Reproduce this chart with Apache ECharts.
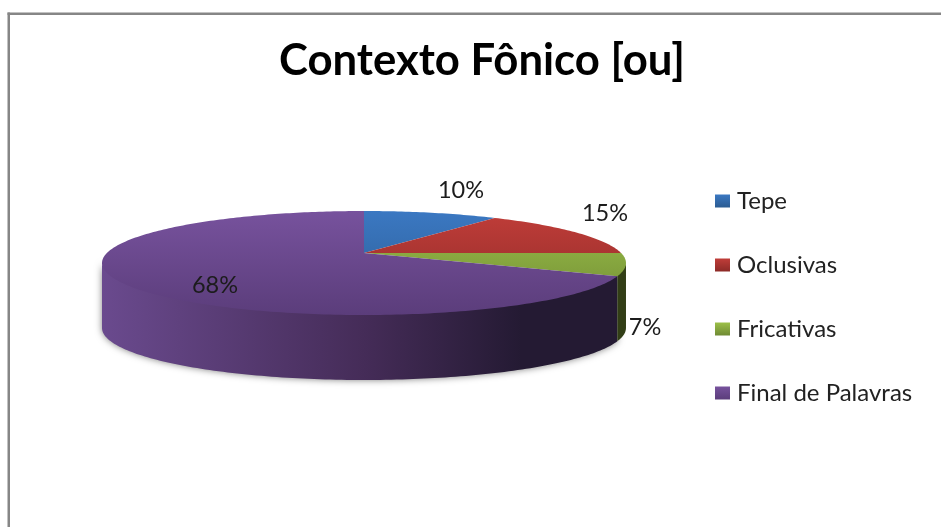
<!DOCTYPE html>
<html>
<head>
<meta charset="utf-8">
<style>
  html, body { margin: 0; padding: 0; background: #fff; }
  #chart { width: 941px; height: 527px; }
</style>
<script src="https://cdn.jsdelivr.net/npm/echarts@6/dist/echarts.min.js"></script>
</head>
<body>
<div id="chart"></div>
<script>
var titleText = "Contexto Fônico [ou]";
var categories = ["Tepe", "Oclusivas", "Fricativas", "Final de Palavras"];
var values = [10, 15, 7, 68];

var topColors = [
  ["#3b78c2", "#2b5c92"],
  ["#c03d39", "#8c2a27"],
  ["#9cc049", "#6f8a34"],
  ["#77529d", "#5b3d7b"]
];
var wallStops = [
  ["#000000", "#000000"],
  ["#000000", "#000000"],
  ["#3d4a1c", "#323e16"],
  ["#6a4a8e", "#241a33"]
];
// label offset from the pie centre
var labelOffsets = [[97, -63], [241, -40], [281, 74], [-149, 32]];

// perspective of the tilted disc
var cx = 364, cy = 253, rx = 257.1, ry = 50.08, k = 0.1923, depth = 65;
var edgeRight = 101.09, edgeLeft = 258.91;

function project(deg) {
  var t = deg * Math.PI / 180;
  var u = Math.sin(t), v = -Math.cos(t);
  var d = 1 - k * v;
  return [cx + rx * u / d, cy + ry * v / d];
}

function arc(from, to, dy) {
  var pts = [];
  var n = Math.max(2, Math.ceil(Math.abs(to - from)));
  for (var i = 0; i <= n; i++) {
    var p = project(from + (to - from) * i / n);
    pts.push([p[0], p[1] + dy]);
  }
  return pts;
}

function renderSlice(params, api) {
  var idx = params.seriesIndex;
  var total = values.reduce(function (a, b) { return a + b; }, 0);
  var before = values.slice(0, idx).reduce(function (a, b) { return a + b; }, 0);
  var start = before / total * 360;
  var end = start + api.value(0) / total * 360;
  var children = [];

  // side wall, only the part facing the viewer
  var wFrom = Math.max(start, edgeRight), wTo = Math.min(end, edgeLeft);
  if (wTo > wFrom) {
    // upper edge runs a bit under the top face so no seam shows
    var upper = arc(wFrom, wTo, -1.5), lower = arc(wTo, wFrom, depth);
    var isMain = idx === 3;
    children.push({
      type: "polygon",
      z2: isMain ? 0 : 1,
      shape: { points: upper.concat(lower) },
      style: {
        fill: new echarts.graphic.LinearGradient(626, 0, 102, 0, [
          { offset: 0, color: wallStops[idx][1] },
          { offset: 0.2, color: isMain ? "#241a33" : wallStops[idx][1] },
          { offset: 0.5, color: isMain ? "#452c58" : wallStops[idx][0] },
          { offset: 1, color: wallStops[idx][0] }
        ], true),
        shadowBlur: isMain ? 7 : 0,
        shadowColor: "rgba(0,0,0,0.5)"
      }
    });
  }

  // top face
  var face = [[cx, cy]].concat(arc(start, end, 0));
  children.push({
    type: "polygon",
    z2: 2,
    shape: { points: face },
    style: {
      fill: new echarts.graphic.LinearGradient(0, 211, 0, 315, [
        { offset: 0, color: topColors[idx][0] },
        { offset: 1, color: topColors[idx][1] }
      ], true)
    }
  });

  children.push({
    type: "text",
    z2: 3,
    style: {
      x: cx + labelOffsets[idx][0],
      y: cy + labelOffsets[idx][1],
      text: api.value(0) + "%",
      align: "center",
      verticalAlign: "middle",
      fill: "#1c1c1c",
      font: "23.5px Lato"
    }
  });
  return { type: "group", children: children };
}

var chart = echarts.init(document.getElementById("chart"));

var series = categories.map(function (name, i) {
  return {
    name: name,
    type: "custom",
    coordinateSystem: "none",
    renderItem: renderSlice,
    silent: true,
    animation: false,
    itemStyle: {
      color: new echarts.graphic.LinearGradient(0, 0, 0, 1, [
        { offset: 0, color: topColors[i][0] },
        { offset: 1, color: topColors[i][1] }
      ])
    },
    data: [[values[i]]]
  };
});

chart.setOption({
  backgroundColor: "#ffffff",
  animation: false,
  title: {
    text: titleText,
    left: 477,
    top: 34,
    textAlign: "center",
    textStyle: { fontFamily: "Lato", fontWeight: "bold", fontSize: 43.7, color: "#000000" }
  },
  legend: {
    orient: "vertical",
    left: 710,
    top: 184,
    itemWidth: 15,
    itemHeight: 13,
    itemGap: 40,
    icon: "rect",
    selectedMode: false,
    data: categories,
    textStyle: { fontFamily: "Lato", fontSize: 24, color: "#222222", lineHeight: 24, padding: [0, 0, 0, 2] }
  },
  graphic: [
    { type: "rect", shape: { x: 7.5, y: 12.5, width: 933.5, height: 2.5 }, style: { fill: "#868686" }, silent: true },
    { type: "rect", shape: { x: 7.5, y: 12.5, width: 2.5, height: 514.5 }, style: { fill: "#868686" }, silent: true }
  ],
  series: series
});
</script>
</body>
</html>
